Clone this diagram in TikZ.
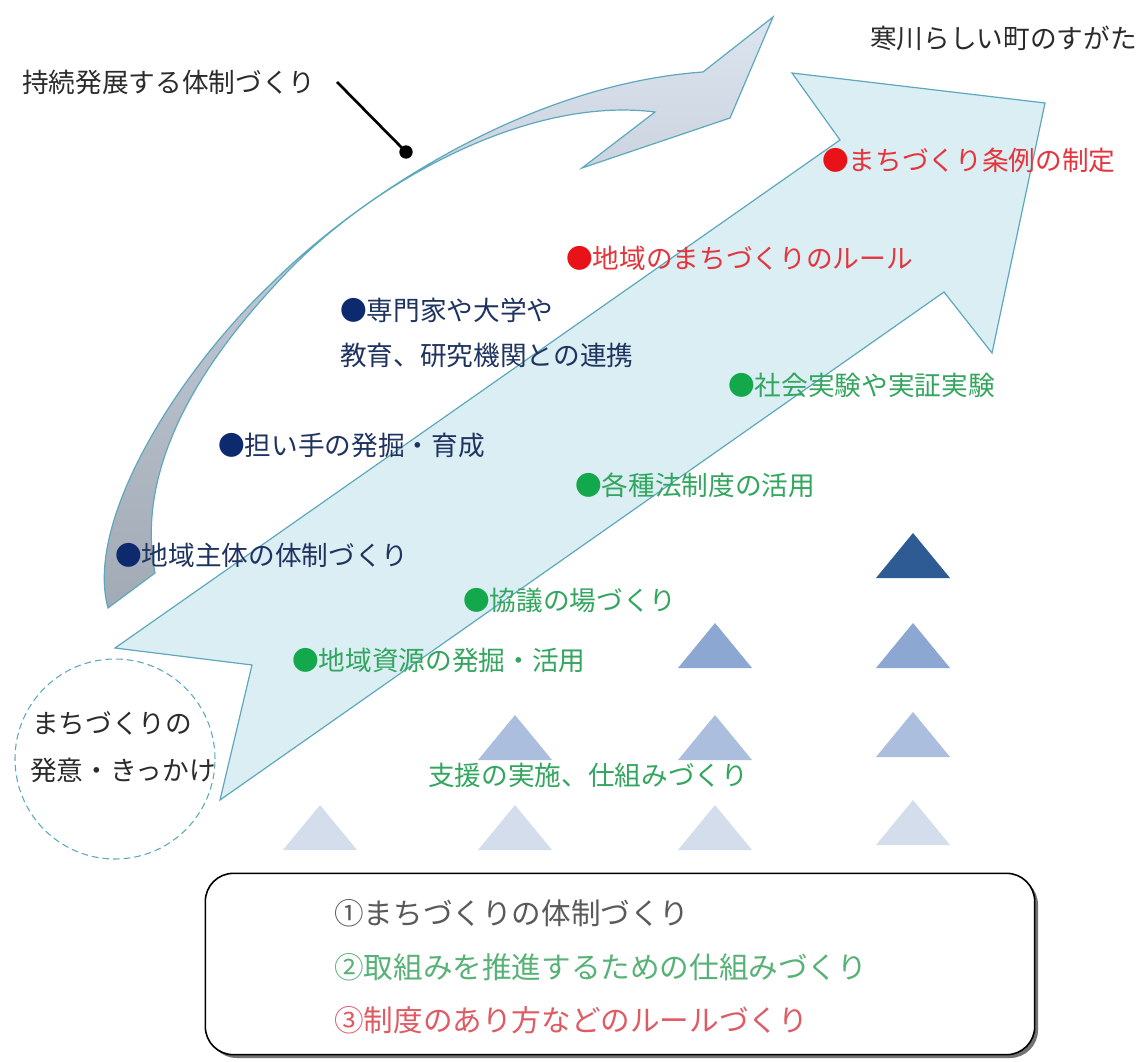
\documentclass[tikz,border=0pt]{standalone}
\usepackage{fontspec}
\setmainfont{Noto Sans CJK JP}
\usetikzlibrary{shadows}
\definecolor{edge}{HTML}{5EA8BE}
\definecolor{bigfill}{HTML}{DAEEF3}
\definecolor{curtop}{HTML}{DCE5EF}
\definecolor{curmid}{HTML}{BAC3CF}
\definecolor{curbot}{HTML}{A2AAB5}
\definecolor{navytext}{HTML}{1F3360}
\definecolor{navydot}{HTML}{0E2A6E}
\definecolor{redtext}{HTML}{E5343B}
\definecolor{reddot}{HTML}{EA1219}
\definecolor{greentext}{HTML}{32A65E}
\definecolor{greendot}{HTML}{13A84B}
\definecolor{darktext}{HTML}{2B2B2B}
\definecolor{tri1}{HTML}{2F5B94}
\definecolor{tri2}{HTML}{8CA7D1}
\definecolor{tri3}{HTML}{ABBEDD}
\definecolor{tri4}{HTML}{D3DDEC}
\definecolor{boxgray}{HTML}{5A5A5A}
\definecolor{boxgreen}{HTML}{58B277}
\definecolor{boxred}{HTML}{E05A64}
\begin{document}
\begin{tikzpicture}[x=0.75pt,y=-0.75pt,
  lbl/.style={inner sep=0pt, anchor=west, font=\fontsize{20}{24}\selectfont},
  navylbl/.style={lbl, text=navytext},
  redlbl/.style={lbl, text=redtext},
  greenlbl/.style={lbl, text=greentext},
  darklbl/.style={lbl, text=darktext},
  boxlbl/.style={inner sep=0pt, anchor=west, font=\fontsize{22.2}{26}\selectfont},
  bigarrow/.style={fill=bigfill, draw=edge, line width=0.9pt, line join=miter},
  curvearrow/.style={top color=curtop, bottom color=curbot, middle color=curmid, draw=edge, line width=0.9pt, line join=miter}
]
\path[use as bounding box, fill=white] (0,0) rectangle (1144,1062);

% curved arrow
\path[curvearrow] (108,608) .. controls (84,520) and (180,370) .. (272,283)
  .. controls (350,205) and (520,85) .. (703,72)
  -- (773,17) -- (730,118) -- (582,168) -- (655,112)
  .. controls (520,95) and (358,192) .. (275,285)
  .. controls (198,368) and (135,470) .. (155,573)
  -- cycle;

% big straight arrow
\path[bigarrow] (115,648) -- (840,140) -- (792,73) -- (1045,103) -- (992,353) -- (944,292) -- (220,800) -- (252,665) -- cycle;

% triangles
\foreach \cx/\by/\col in {320/850/tri4, 515/760/tri3, 515/850/tri4, 715/668/tri2, 715/760/tri3, 715/850/tri4, 913/578/tri1, 913/668/tri2, 913/757/tri3, 913/845/tri4}{
  \fill[\col] (\cx-37,\by) -- (\cx,\by-45) -- (\cx+37,\by) -- cycle;
}

% starting circle
\node[circle, draw=edge, dash pattern=on 5pt off 3pt, line width=0.8pt, minimum size=150pt, inner sep=0pt] (spark) at (115,759) {};
\node[darklbl] (spark1) at (32,723) {まちづくりの};
\node[darklbl] (spark2) at (30,770) {発意・きっかけ};

% titles
\node[darklbl] (sustain) at (22,82) {持続発展する体制づくり};
\node[darklbl] (goal) at (870,38) {寒川らしい町のすがた};
\coordinate (leadstart) at (337,82);
\coordinate (leaddot) at (406,152);
\draw[line width=2pt, black] (leadstart) -- (leaddot);
\fill[black] (leaddot) circle (5pt);

% navy items
\node[navylbl] (n1) at (340,310) {{\color{navydot}●}専門家や大学や};
\node[navylbl] (n1b) at (340,355) {教育、研究機関との連携};
\node[navylbl] (n2) at (218,445) {{\color{navydot}●}担い手の発掘・育成};
\node[navylbl] (n3) at (115,555) {{\color{navydot}●}地域主体の体制づくり};

% red items
\node[redlbl] (r1) at (822,160) {{\color{reddot}●}まちづくり条例の制定};
\node[redlbl] (r2) at (566,258) {{\color{reddot}●}地域のまちづくりのルール};

% green items
\node[greenlbl] (g1) at (728,385) {{\color{greendot}●}社会実験や実証実験};
\node[greenlbl] (g2) at (575,485) {{\color{greendot}●}各種法制度の活用};
\node[greenlbl] (g3) at (463,600) {{\color{greendot}●}協議の場づくり};
\node[greenlbl] (g4) at (292,660) {{\color{greendot}●}地域資源の発掘・活用};
\node[greenlbl] (g5) at (428,775) {支援の実施、仕組みづくり};

% legend box
\node[draw=black, fill=white, line width=1.2pt, rounded corners=21pt, minimum width=622pt, minimum height=136pt, inner sep=0pt,
  drop shadow={shadow xshift=2.5pt, shadow yshift=-2.5pt, fill=black!55, opacity=1}] (legend) at (620,964) {};
\node[boxlbl, text=boxgray] (l1) at (334,913) {①まちづくりの体制づくり};
\node[boxlbl, text=boxgreen] (l2) at (334,967) {②取組みを推進するための仕組みづくり};
\node[boxlbl, text=boxred] (l3) at (334,1020) {③制度のあり方などのルールづくり};
\end{tikzpicture}
\end{document}
